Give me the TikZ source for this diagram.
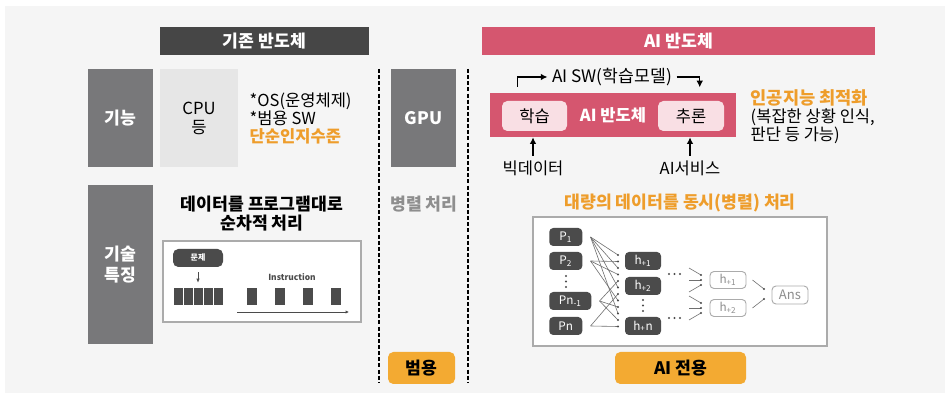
\documentclass[tikz,border=0pt]{standalone}
\usepackage{fontspec}
\setmainfont{Noto Sans CJK KR}
\usetikzlibrary{positioning,arrows.meta}

\definecolor{pagegray}{HTML}{F5F5F5}
\definecolor{headdark}{HTML}{464646}
\definecolor{sidegray}{HTML}{78787A}
\definecolor{cpugray}{HTML}{E6E6E6}
\definecolor{aipink}{HTML}{D5566F}
\definecolor{softpink}{HTML}{F9DFE4}
\definecolor{orangetxt}{HTML}{EE9D2B}
\definecolor{orangebox}{HTML}{F3AA32}
\definecolor{nodedark}{HTML}{4B4B4B}
\definecolor{framegray}{HTML}{ABABAB}
\definecolor{softtxt}{HTML}{8E8E8E}

\tikzset{
  bigtxt/.style={font=\fontsize{12.9}{14.25}\selectfont\bfseries},
  txt/.style={font=\fontsize{12.4}{13.5}\selectfont},
  header/.style={fill=#1, text=white, bigtxt, minimum height=21pt, inner sep=0pt},
  sidebox/.style={fill=sidegray, text=white, bigtxt, minimum width=48.75pt, inner sep=0pt, align=center},
  frame/.style={draw=framegray, fill=white, line width=1.1pt, inner sep=0pt},
  bar/.style={fill=nodedark, minimum height=12.75pt, inner sep=0pt},
  tag/.style={fill=orangebox, rounded corners=4pt, bigtxt, minimum height=24pt, inner sep=0pt},
  softbox/.style={fill=softpink, rounded corners=4pt, txt, minimum width=48.75pt, minimum height=22.5pt, inner sep=0pt},
  pnode/.style={fill=nodedark, text=white, rounded corners=3pt, font=\fontsize{8.8}{10}\selectfont,
    minimum width=24.75pt, minimum height=13.5pt, inner sep=0pt},
  onode/.style={draw=framegray, fill=white, text=softtxt, rounded corners=3pt, line width=0.7pt,
    font=\fontsize{8.8}{10}\selectfont, minimum width=27pt, minimum height=12.75pt, inner sep=0pt},
  wire/.style={draw=nodedark!80, line width=0.45pt},
  sepline/.style={line width=1.5pt, dash pattern=on 3pt off 1.6pt},
  arr/.style={line width=1.1pt, -{Latex[length=5pt,width=5pt]}}
}

\begin{document}
\begin{tikzpicture}[x=0.75pt, y=-0.75pt]
  \useasboundingbox (0,0) rectangle (950,402);
  \fill[pagegray] (5,6) rectangle (945,393);

  \node[header=headdark, minimum width=156.75pt] (oldhead) at (264.5,41) {기존 반도체};
  \node[header=aipink, minimum width=294.75pt] (aihead) at (678.5,41) {AI 반도체};

  \node[sidebox, minimum height=73.5pt] (func) at (120.5,118) {기능};
  \node[sidebox, minimum height=119.25pt, font=\fontsize{12.9}{15.75}\selectfont\bfseries] (tech) at (120.5,264.5) {기술\\특징};
  \node[fill=cpugray, minimum width=58.5pt, minimum height=73.5pt, align=center, inner sep=0pt,
    font=\fontsize{12.5}{14.25}\selectfont] (cpu) at (199,118) {CPU\\등};
  \node[sidebox, minimum height=73.5pt] (gpu) at (423.5,118) {GPU};

  \node[txt, anchor=west, align=left] (cpunote) at (245,118)
    {*OS(운영체제)\\*범용 SW\\\textcolor{orangetxt}{\bfseries 단순인지수준}};

  \node[bigtxt, align=center] (seqtitle) at (262,213.5) {데이터를 프로그램대로\\순차적 처리};
  \node[frame, minimum width=148.5pt, minimum height=60.75pt] (seqbox) at (262,281.5) {};
  \node[fill=nodedark, text=white, rounded corners=4pt, minimum width=37.5pt, minimum height=13.5pt,
    inner sep=0pt, font=\fontsize{6}{7}\selectfont\bfseries] (prob) at (198,258) {문제};
  \foreach \x in {178,188,198,208,218}
    \node[bar, minimum width=6.75pt] (b\x) at (\x,296.5) {};
  \foreach \x in {252,280,308,336}
    \node[bar, minimum width=7pt] (b\x) at (\x,296.5) {};
  \draw[draw=nodedark, line width=0.5pt, -{Latex[length=3pt,width=2.5pt]}] ([yshift=-3.75pt]prob.south) -- ([yshift=3.75pt]b198.north);
  \node[text=nodedark, font=\fontsize{6.3}{7}\selectfont\bfseries] (instr) at (292,277) {Instruction};
  \coordinate (insta) at (237,312);
  \coordinate (instb) at (349,312);
  \draw[draw=nodedark, line width=0.5pt, -{Latex[length=2.5pt,width=2.5pt]}] (insta) -- (instb);

  \draw[sepline] (379,69) -- (379,382);
  \draw[sepline] (468,69) -- (468,382);
  \node[bigtxt, text=softtxt] (par) at (424,204) {병렬 처리};
  \node[tag, minimum width=50.25pt] (general) at (421.5,368) {범용};

  \node[fill=aipink, text=white, minimum width=184.5pt, minimum height=33pt, inner sep=0pt,
    font=\fontsize{12.4}{13.5}\selectfont\bfseries] (aichip) at (613,115) {AI 반도체};
  \node[softbox] (learn) at (534.5,116) {학습};
  \node[softbox, minimum width=49.5pt] (infer) at (691,116) {추론};
  \node[font=\fontsize{12.9}{14}\selectfont] (aisw) at (612,77) {AI SW(학습모델)};
  \draw[arr] ([xshift=21pt,yshift=4.5pt]aichip.north west) |- (aisw.west);
  \draw[arr] (aisw.east) -| ([xshift=157.5pt,yshift=4pt]aichip.north west);
  \node[txt, anchor=west, align=left] (aiopt) at (746,117)
    {\textcolor{orangetxt}{\fontsize{13.2}{13.5}\selectfont\bfseries 인공지능 최적화}\\(복잡한 상황 인식,\\판단 등 가능)};
  \node[txt] (bigdata) at (533,168) {빅데이터};
  \node[txt] (aisvc) at (690,168) {AI서비스};
  \draw[arr] (bigdata.north) -- (bigdata.north |- aichip.south);
  \draw[arr] (aisvc.north) -- (aisvc.north |- aichip.south);

  \node[bigtxt, text=orangetxt] (partitle) at (680,203) {대량의 데이터를 동시(병렬) 처리};
  \node[frame, minimum width=220.5pt, minimum height=96.75pt] (parbox) at (680,281.5) {};

  \node[pnode, anchor=west] (p1) at (549,237) {P\textsubscript{1}};
  \node[pnode, anchor=west] (p2) at (549,261) {P\textsubscript{2}};
  \node[pnode, anchor=west, minimum width=31.5pt] (pn1) at (549,301) {Pn\textsubscript{-1}};
  \node[pnode, anchor=west] (pn) at (549,326) {Pn};
  \foreach \y in {276,281.5,287}
    \fill[nodedark] (566,\y) circle (0.8pt);

  \node[pnode, minimum width=27pt] (h1) at (643,261) {h\textsubscript{+1}};
  \node[pnode, minimum width=27pt] (h2) at (643,286) {h\textsubscript{+2}};
  \node[pnode, minimum width=27pt] (hn) at (643,326) {h\textsubscript{+}n};
  \foreach \y in {300,305.5,311}
    \fill[nodedark] (643,\y) circle (0.8pt);
  \foreach \x in {669,674.5,680} {
    \fill[nodedark] (\x,274) circle (0.8pt);
    \fill[nodedark] (\x,318) circle (0.8pt);
  }

  \foreach \i/\y in {1/255,2/261.5,3/268,4/274.5,5/281,6/287.5,7/294,8/300.5,9/307,10/313.5,11/320,12/326.5}
    \coordinate (d\i) at (618,\y);
  \foreach \s/\i in {p1/1,p2/2,p1/3,p2/4,pn1/5,p1/6,pn/7,p2/8,pn1/9,p1/10,pn1/11,pn/12}
    \draw[wire] ([xshift=6pt]\s.east) -- (d\i);
  \foreach \i in {1,...,12}
    \fill[nodedark] (d\i) circle (0.9pt);

  \node[onode] (g1) at (728,280) {h\textsubscript{+1}};
  \node[onode] (g2) at (728,308) {h\textsubscript{+2}};
  \node[onode, font=\fontsize{9.8}{11}\selectfont, minimum width=27pt, minimum height=13.5pt] (ans) at (790,295) {Ans};

  \foreach \i/\sy/\ey in {1/268/275,2/280/280,3/292/285,4/296/303,5/308/308,6/320/313} {
    \coordinate (s\i) at (689,\sy);
    \coordinate (e\i) at (701,\ey);
    \draw[wire] (s\i) -- (e\i);
    \fill[nodedark] (e\i) circle (0.9pt);
  }
  \coordinate (a1) at (764,289);
  \coordinate (a2) at (764,299);
  \draw[wire] ([xshift=4.5pt]g1.east) -- (a1);
  \draw[wire] ([xshift=4.5pt]g2.east) -- (a2);
  \fill[nodedark] (a1) circle (0.9pt);
  \fill[nodedark] (a2) circle (0.9pt);

  \node[tag, minimum width=98.25pt] (aionly) at (680.5,368) {AI 전용};
\end{tikzpicture}
\end{document}
